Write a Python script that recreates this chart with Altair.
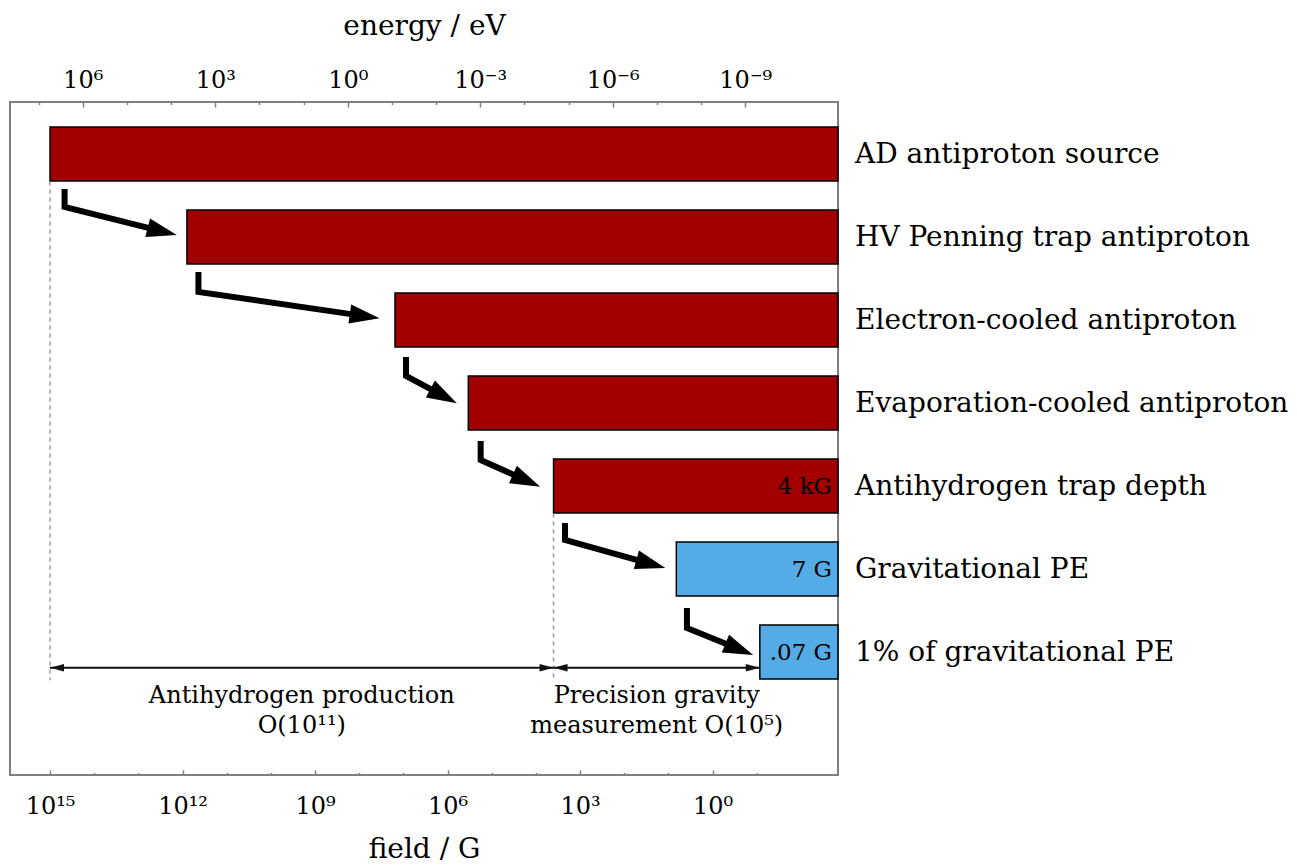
import math
import altair as alt
import pandas as pd

# ---------------- data ----------------
bar_names = [
    "AD antiproton source",
    "HV Penning trap antiproton",
    "Electron-cooled antiproton",
    "Evaporation-cooled antiproton",
    "Antihydrogen trap depth",
    "Gravitational PE",
    "1% of gravitational PE",
]
bar_row = [0, 1, 2, 3, 4, 5, 6]
bar_left_exp = [15.0, 11.90, 7.19, 5.53, 3.60, 0.82, -1.07]   # log10(field / G)
bar_kind = ["antiproton", "antiproton", "antiproton", "antiproton", "antiproton", "gravity", "gravity"]
bar_inner_label = ["", "", "", "", "4 kG", "7 G", ".07 G"]

FIELD_MIN_EXP = -2.84     # right edge of the frame
FIELD_MAX_EXP = 15.906    # left edge of the frame
ROW_MIN, ROW_MAX = -0.627, 7.482
BAR_HALF = 0.325

field_tick_exp = [15, 12, 9, 6, 3, 0]
field_minor_exp = [14, 13, 11, 10, 8, 7, 5, 4, 2, 1, -1]
energy_tick_exp = [6, 3, 0, -3, -6, -9]
energy_minor_exp = [7, 5, 4, 2, 1, -1, -2, -4, -5, -7, -8]
EV_TO_FIELD_DECADES = 8.26   # log10(field/G) = log10(energy/eV) + 8.26

# elbow arrows between successive stages
arrow_x_start_exp = [14.67, 11.64, 6.94, 5.25, 3.34, 0.58]
arrow_y_start = [0.421, 1.421, 2.445, 3.457, 4.445, 5.469]
arrow_y_elbow = [0.638, 1.662, 2.674, 3.686, 4.650, 5.710]
arrow_x_tip_exp = [12.13, 7.54, 5.79, 3.90, 1.07, -0.92]
arrow_y_tip = [0.975, 1.979, 3.003, 4.008, 4.987, 6.036]

# regimes
regime_edges_exp = [15.0, 3.60, -1.07]
regime_arrow_y = 6.19
regime_dash_exp = [15.0, 3.60]
regime_dash_top = [0.33, 4.33]
regime_dash_bottom = 6.34
regime_text = ["Antihydrogen production\nO(10¹¹)", "Precision gravity\nmeasurement O(10⁵)"]
regime_text_y = 6.614

# ---------------- styling ----------------
W, H = 828, 673
FONT = "DejaVu Serif"
RED, BLUE = "#A20000", "#55ABE5"
FRAME = "#808080"
PXD = W / (FIELD_MAX_EXP - FIELD_MIN_EXP)   # px per decade
PXR = H / (ROW_MAX - ROW_MIN)               # px per row
HEAD_LEN = 30.0
HEAD_PATH = "M0,0 L-1,-0.32 L-1,0.32 Z"
SMALL_HEAD_LEN = 14.0
SMALL_HEAD_PATH = "M0,0 L-1,-0.27 L-1,0.27 Z"

sup = str.maketrans("0123456789-", "⁰¹²³⁴⁵⁶⁷⁸⁹⁻")


def pow_label(e):
    return "10" + str(e).translate(sup)


def label_expr(exps, shift):
    e_expr = f"round(log(datum.value)/LN10 - ({shift}))"
    return "".join(f"{e_expr} == {e} ? '{pow_label(e)}' : " for e in exps) + "''"


# ---------------- tables ----------------
bars_df = pd.DataFrame({
    "row": bar_row,
    "name": bar_names,
    "left": [10 ** e for e in bar_left_exp],
    "right": [10 ** FIELD_MIN_EXP] * len(bar_row),
    "y0": [r - BAR_HALF for r in bar_row],
    "y1": [r + BAR_HALF for r in bar_row],
    "kind": bar_kind,
    "inner": bar_inner_label,
})
inner_df = bars_df[bars_df["inner"] != ""]

line_rows, head_rows = [], []
for k in range(len(arrow_x_start_exp)):
    xs, ys, ye = arrow_x_start_exp[k], arrow_y_start[k], arrow_y_elbow[k]
    xt, yt = arrow_x_tip_exp[k], arrow_y_tip[k]
    a = math.atan2((yt - ye) * PXR, (xs - xt) * PXD)
    back = 0.5 * HEAD_LEN
    xe = xt + back * math.cos(a) / PXD
    yend = yt - back * math.sin(a) / PXR
    for seq, (xx, yy) in enumerate([(xs, ys), (xs, ye), (xe, yend)]):
        line_rows.append({"arrow": k, "seq": seq, "x": 10 ** xx, "y": yy})
    head_rows.append({"x": 10 ** xt, "y": yt, "angle": math.degrees(a)})
lines_df = pd.DataFrame(line_rows)
heads_df = pd.DataFrame(head_rows)

dash_df = pd.DataFrame({
    "x": [10 ** e for e in regime_dash_exp],
    "y": regime_dash_top,
    "y2": [regime_dash_bottom] * len(regime_dash_exp),
})
span_df = pd.DataFrame({
    "x": [10 ** e for e in regime_edges_exp[:-1]],
    "x2": [10 ** e for e in regime_edges_exp[1:]],
    "y": [regime_arrow_y] * (len(regime_edges_exp) - 1),
})
span_heads = []
for i in range(len(regime_edges_exp) - 1):
    span_heads.append({"x": 10 ** regime_edges_exp[i], "y": regime_arrow_y, "angle": 180})
    span_heads.append({"x": 10 ** regime_edges_exp[i + 1], "y": regime_arrow_y, "angle": 0})
span_heads_df = pd.DataFrame(span_heads)
text_df = pd.DataFrame({
    "x": [10 ** ((regime_edges_exp[i] + regime_edges_exp[i + 1]) / 2) for i in range(2)],
    "y": [regime_text_y] * 2,
    "text": regime_text,
})

# ---------------- scales & axes ----------------
x_scale = alt.Scale(type="log", domain=[10 ** FIELD_MIN_EXP, 10 ** FIELD_MAX_EXP],
                    reverse=True, nice=False)
y_scale = alt.Scale(domain=[ROW_MIN, ROW_MAX], reverse=True, nice=False, zero=False)

common = dict(grid=False, domain=False, tickColor=FRAME, tickWidth=1.5,
              labelFont=FONT, labelColor="black", labelFontSize=24,
              labelOverlap=False, labelFlush=False,
              titleFont=FONT, titleFontSize=28, titleFontWeight="normal", titleColor="black")

axis_bottom = alt.Axis(orient="bottom", values=[10 ** e for e in field_tick_exp],
                       labelExpr=label_expr(field_tick_exp, 0), tickSize=5, offset=-5,
                       labelPadding=19, title="field / G", titlePadding=17, **common)
axis_bottom_minor = alt.Axis(orient="bottom", values=[10 ** e for e in field_minor_exp],
                             labels=False, tickSize=2.5, offset=-2.5, title=None, **common)
axis_top = alt.Axis(orient="top", values=[10 ** (e + EV_TO_FIELD_DECADES) for e in energy_tick_exp],
                    labelExpr=label_expr(energy_tick_exp, EV_TO_FIELD_DECADES), tickSize=5, offset=-5,
                    labelPadding=10, title="energy / eV", titlePadding=28, **common)
axis_top_minor = alt.Axis(orient="top", values=[10 ** (e + EV_TO_FIELD_DECADES) for e in energy_minor_exp],
                          labels=False, tickSize=2.5, offset=-2.5, title=None, **common)

# ---------------- layers ----------------
bars = alt.Chart(bars_df).mark_rect(stroke="black", strokeWidth=1.5).encode(
    x=alt.X("left:Q", scale=x_scale, axis=axis_bottom),
    x2="right:Q",
    y=alt.Y("y0:Q", scale=y_scale, axis=None),
    y2="y1:Q",
    color=alt.Color("kind:N", scale=alt.Scale(domain=["antiproton", "gravity"], range=[RED, BLUE]),
                    legend=None),
)

stage_labels = alt.Chart(bars_df).mark_text(font=FONT, fontSize=28, align="left", baseline="middle",
                                            dx=17, dy=1, color="black").encode(
    x=alt.X("right:Q", axis=None),
    y=alt.Y("row:Q", axis=None),
    text="name:N",
)

dashes = alt.Chart(dash_df).mark_rule(color="#999999", strokeWidth=1.5, strokeDash=[4, 4]).encode(
    x=alt.X("x:Q", axis=axis_bottom_minor),
    y=alt.Y("y:Q", axis=None),
    y2="y2:Q",
)

arrow_lines = alt.Chart(lines_df).mark_line(color="black", strokeWidth=6, strokeJoin="miter",
                                            strokeCap="butt").encode(
    x=alt.X("x:Q", axis=axis_top),
    y=alt.Y("y:Q", axis=None),
    order="seq:Q",
    detail="arrow:N",
)

arrow_heads = alt.Chart(heads_df).mark_point(shape=HEAD_PATH, filled=True, color="black", opacity=1,
                                             strokeWidth=0, size=(2 * HEAD_LEN) ** 2).encode(
    x=alt.X("x:Q", axis=axis_top_minor),
    y=alt.Y("y:Q", axis=None),
    angle=alt.Angle("angle:Q", scale=None),
)

spans = alt.Chart(span_df).mark_rule(color="#111111", strokeWidth=2).encode(
    x=alt.X("x:Q", axis=None),
    x2="x2:Q",
    y=alt.Y("y:Q", axis=None),
)

span_heads_l = alt.Chart(span_heads_df).mark_point(shape=SMALL_HEAD_PATH, filled=True, color="#111111",
                                                   opacity=1, strokeWidth=0,
                                                   size=(2 * SMALL_HEAD_LEN) ** 2).encode(
    x=alt.X("x:Q", axis=None),
    y=alt.Y("y:Q", axis=None),
    angle=alt.Angle("angle:Q", scale=None),
)

regime_labels = alt.Chart(text_df).mark_text(font=FONT, fontSize=24, align="center",
                                             baseline="alphabetic", lineBreak="\n",
                                             lineHeight=30, color="black").encode(
    x=alt.X("x:Q", axis=None),
    y=alt.Y("y:Q", axis=None),
    text="text:N",
)

inner_labels = alt.Chart(inner_df).mark_text(font=FONT, fontSize=23, align="right",
                                             baseline="middle", dx=-6, dy=1, color="black").encode(
    x=alt.X("right:Q", axis=None),
    y=alt.Y("row:Q", axis=None),
    text="inner:N",
)

chart = alt.layer(
    bars, dashes, arrow_lines, arrow_heads, spans, span_heads_l, regime_labels, inner_labels,
    stage_labels
).resolve_axis(
    x="independent"
).properties(
    width=W, height=H,
    padding={"left": 2, "top": 4, "right": 0, "bottom": 0},
    background="white",
).configure(
    font=FONT
).configure_view(
    stroke=FRAME, strokeWidth=2
)

chart.save("out.html", embed_options={"renderer": "svg", "actions": False})
